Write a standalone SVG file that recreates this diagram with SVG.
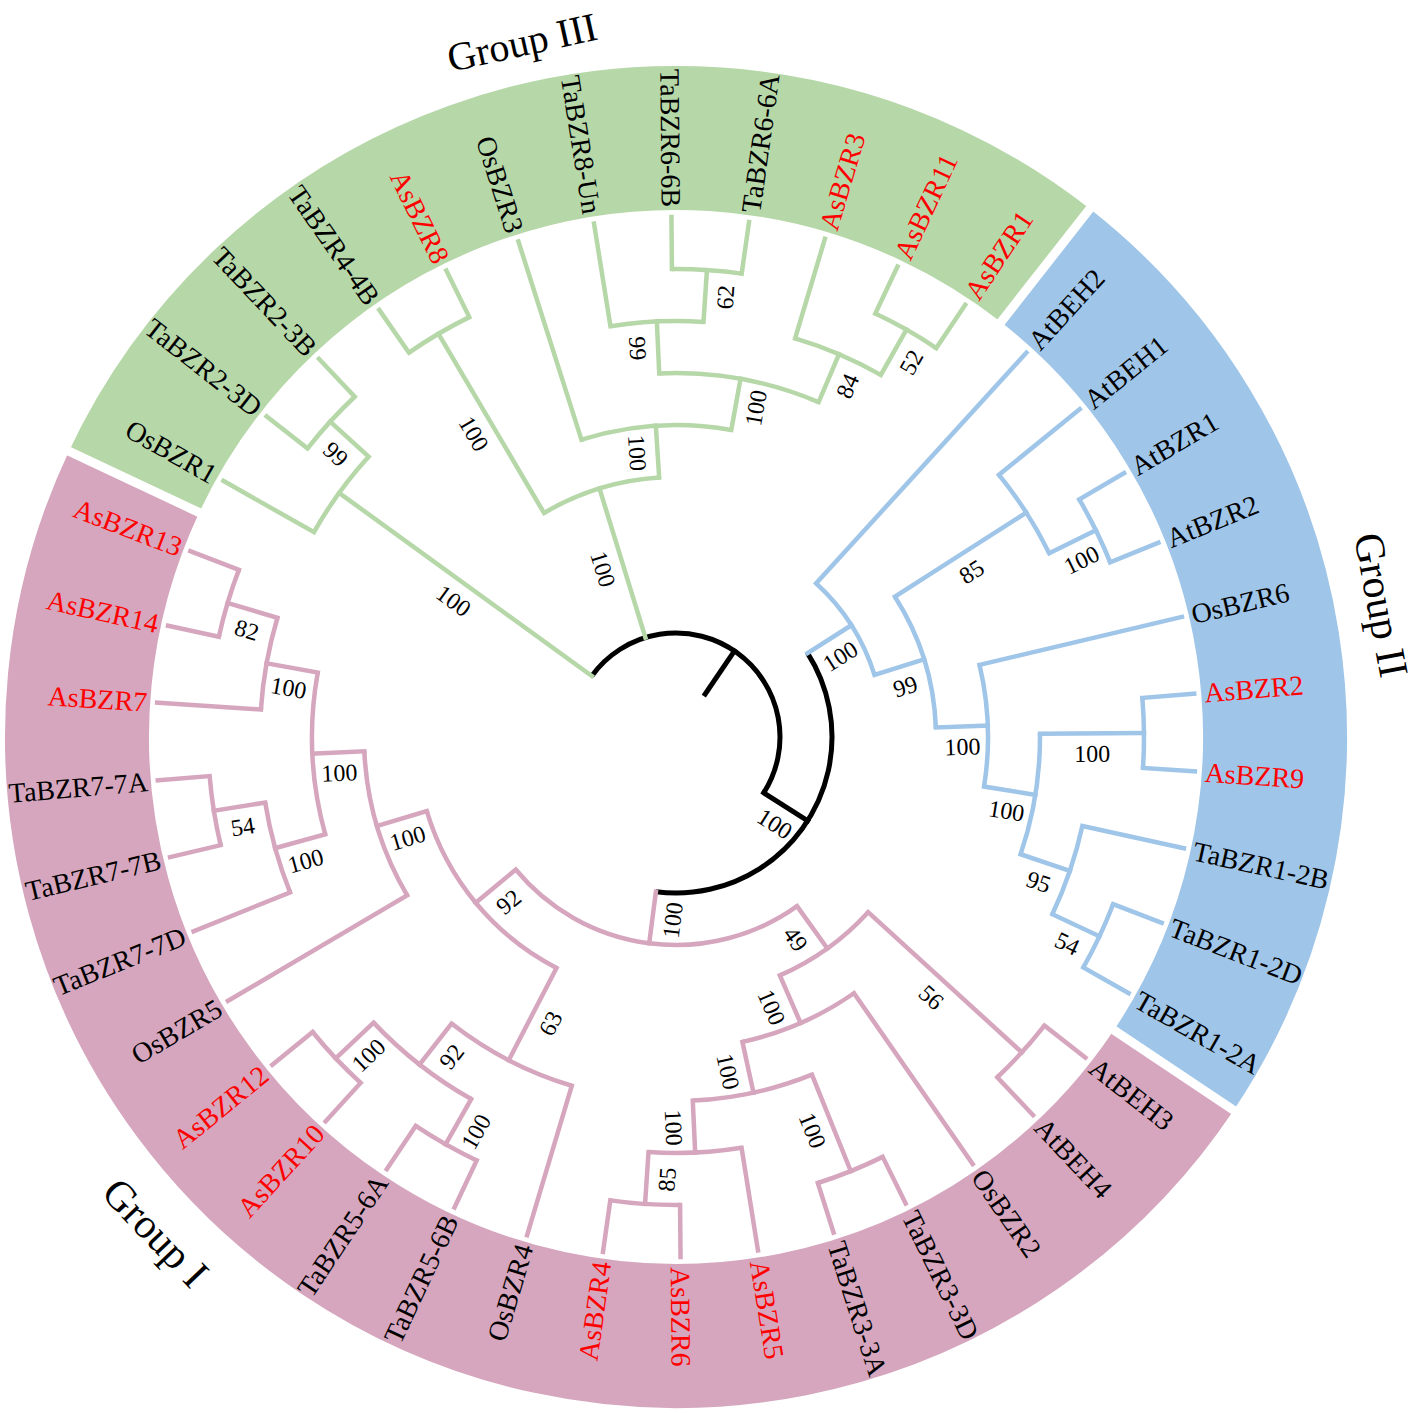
<svg xmlns="http://www.w3.org/2000/svg" width="1417" height="1413" viewBox="0 0 1417 1413">
<style>
.ring{fill:none;stroke-width:144}
.gap{stroke:#fff;stroke-width:9}
.e{fill:none;stroke-width:4.5;stroke-linecap:square}
.a{fill:none;stroke-width:4.5}
.gr{stroke:#b6d7a8}
.bl{stroke:#9fc5e8}
.pk{stroke:#d5a6bd}
.k{stroke:#000;stroke-width:5}
text{font-family:"Liberation Serif","Times New Roman",serif;fill:#000}
.leaf{font-size:28px}
.red{fill:#ff0000}
.bs{font-size:24px;text-anchor:middle}
.grp{font-size:42px;text-anchor:middle}
.s{text-anchor:start}
.n{text-anchor:end}
</style>
<rect width="1417" height="1413" fill="#fff"/>
<g transform="translate(676,737)">
<g id="rings">
<circle class="ring" r="599" stroke="#b6d7a8" pathLength="360" stroke-dasharray="102.86 360" transform="rotate(205.21)"/>
<circle class="ring" r="599" stroke="#9fc5e8" pathLength="360" stroke-dasharray="85.72 360" transform="rotate(308.07)"/>
<circle class="ring" r="599" stroke="#d5a6bd" pathLength="360" stroke-dasharray="171.42 360" transform="rotate(33.79)"/>
<line class="gap" x1="524" x2="680" transform="rotate(205.21)"/>
<line class="gap" x1="524" x2="680" transform="rotate(308.07)"/>
<line class="gap" x1="524" x2="680" transform="rotate(33.79)"/>
</g>
<g id="connectors">
<!-- root -->
<line class="e k" x1="52" x2="104" transform="rotate(304.19)"/>
<circle class="a k" r="104" pathLength="360" stroke-dasharray="176.52 360" transform="rotate(215.93)"/>
<line class="e k" x1="104" x2="156" transform="rotate(32.45)"/>
<circle class="a k" r="156" pathLength="360" stroke-dasharray="129.91 360" transform="rotate(327.49)"/>
<!-- green -->
<g class="gr">
<line class="e gr" x1="104" x2="416" transform="rotate(215.93)"/>
<circle class="a gr" r="416" pathLength="360" stroke-dasharray="12.86 360" transform="rotate(209.5)"/>
<line class="e gr" x1="416" x2="520" transform="rotate(209.5)"/>
<line class="e gr" x1="416" x2="468" transform="rotate(222.36)"/>
<circle class="a gr" r="468" pathLength="360" stroke-dasharray="8.57 360" transform="rotate(218.07)"/>
<line class="e gr" x1="468" x2="520" transform="rotate(218.07)"/>
<line class="e gr" x1="468" x2="520" transform="rotate(226.64)"/>
<line class="e gr" x1="104" x2="260" transform="rotate(252.89)"/>
<circle class="a gr" r="260" pathLength="360" stroke-dasharray="26.79 360" transform="rotate(239.5)"/>
<line class="e gr" x1="260" x2="468" transform="rotate(239.5)"/>
<circle class="a gr" r="468" pathLength="360" stroke-dasharray="8.58 360" transform="rotate(235.21)"/>
<line class="e gr" x1="468" x2="520" transform="rotate(235.21)"/>
<line class="e gr" x1="468" x2="520" transform="rotate(243.79)"/>
<line class="e gr" x1="260" x2="312" transform="rotate(266.29)"/>
<circle class="a gr" r="312" pathLength="360" stroke-dasharray="27.85 360" transform="rotate(252.36)"/>
<line class="e gr" x1="312" x2="520" transform="rotate(252.36)"/>
<line class="e gr" x1="312" x2="364" transform="rotate(280.21)"/>
<circle class="a gr" r="364" pathLength="360" stroke-dasharray="25.71 360" transform="rotate(267.36)"/>
<line class="e gr" x1="364" x2="416" transform="rotate(267.36)"/>
<circle class="a gr" r="416" pathLength="360" stroke-dasharray="12.86 360" transform="rotate(260.93)"/>
<line class="e gr" x1="416" x2="520" transform="rotate(260.93)"/>
<line class="e gr" x1="416" x2="468" transform="rotate(273.79)"/>
<circle class="a gr" r="468" pathLength="360" stroke-dasharray="8.57 360" transform="rotate(269.5)"/>
<line class="e gr" x1="468" x2="520" transform="rotate(269.5)"/>
<line class="e gr" x1="468" x2="520" transform="rotate(278.07)"/>
<line class="e gr" x1="364" x2="416" transform="rotate(293.07)"/>
<circle class="a gr" r="416" pathLength="360" stroke-dasharray="12.86 360" transform="rotate(286.64)"/>
<line class="e gr" x1="416" x2="520" transform="rotate(286.64)"/>
<line class="e gr" x1="416" x2="468" transform="rotate(299.5)"/>
<circle class="a gr" r="468" pathLength="360" stroke-dasharray="8.58 360" transform="rotate(295.21)"/>
<line class="e gr" x1="468" x2="520" transform="rotate(295.21)"/>
<line class="e gr" x1="468" x2="520" transform="rotate(303.79)"/>
</g>
<!-- blue -->
<g class="bl">
<line class="e bl" x1="156" x2="208" transform="rotate(327.49)"/>
<circle class="a bl" r="208" pathLength="360" stroke-dasharray="30.27 360" transform="rotate(312.36)"/>
<line class="e bl" x1="208" x2="520" transform="rotate(312.36)"/>
<line class="e bl" x1="208" x2="260" transform="rotate(342.63)"/>
<circle class="a bl" r="260" pathLength="360" stroke-dasharray="30.53 360" transform="rotate(327.36)"/>
<line class="e bl" x1="260" x2="416" transform="rotate(327.36)"/>
<circle class="a bl" r="416" pathLength="360" stroke-dasharray="12.86 360" transform="rotate(320.93)"/>
<line class="e bl" x1="416" x2="520" transform="rotate(320.93)"/>
<line class="e bl" x1="416" x2="468" transform="rotate(333.79)"/>
<circle class="a bl" r="468" pathLength="360" stroke-dasharray="8.57 360" transform="rotate(329.5)"/>
<line class="e bl" x1="468" x2="520" transform="rotate(329.5)"/>
<line class="e bl" x1="468" x2="520" transform="rotate(338.07)"/>
<line class="e bl" x1="260" x2="312" transform="rotate(357.89)"/>
<circle class="a bl" r="312" pathLength="360" stroke-dasharray="22.5 360" transform="rotate(346.64)"/>
<line class="e bl" x1="312" x2="520" transform="rotate(346.64)"/>
<line class="e bl" x1="312" x2="364" transform="rotate(9.14)"/>
<circle class="a bl" r="364" pathLength="360" stroke-dasharray="19.29 360" transform="rotate(359.5)"/>
<line class="e bl" x1="364" x2="468" transform="rotate(359.5)"/>
<circle class="a bl" r="468" pathLength="360" stroke-dasharray="8.58 360" transform="rotate(355.21)"/>
<line class="e bl" x1="468" x2="520" transform="rotate(355.21)"/>
<line class="e bl" x1="468" x2="520" transform="rotate(3.79)"/>
<line class="e bl" x1="364" x2="416" transform="rotate(18.79)"/>
<circle class="a bl" r="416" pathLength="360" stroke-dasharray="12.85 360" transform="rotate(12.36)"/>
<line class="e bl" x1="416" x2="520" transform="rotate(12.36)"/>
<line class="e bl" x1="416" x2="468" transform="rotate(25.21)"/>
<circle class="a bl" r="468" pathLength="360" stroke-dasharray="8.57 360" transform="rotate(20.93)"/>
<line class="e bl" x1="468" x2="520" transform="rotate(20.93)"/>
<line class="e bl" x1="468" x2="520" transform="rotate(29.5)"/>
</g>
<!-- pink -->
<g class="pk">
<line class="e pk" x1="156" x2="208" transform="rotate(97.4)"/>
<circle class="a pk" r="208" pathLength="360" stroke-dasharray="85.99 360" transform="rotate(54.41)"/>
<line class="e pk" x1="208" x2="260" transform="rotate(54.41)"/>
<circle class="a pk" r="260" pathLength="360" stroke-dasharray="24.1 360" transform="rotate(42.36)"/>
<line class="e pk" x1="260" x2="468" transform="rotate(42.36)"/>
<circle class="a pk" r="468" pathLength="360" stroke-dasharray="8.57 360" transform="rotate(38.07)"/>
<line class="e pk" x1="468" x2="520" transform="rotate(38.07)"/>
<line class="e pk" x1="468" x2="520" transform="rotate(46.64)"/>
<line class="e pk" x1="260" x2="312" transform="rotate(66.46)"/>
<circle class="a pk" r="312" pathLength="360" stroke-dasharray="22.5 360" transform="rotate(55.21)"/>
<line class="e pk" x1="312" x2="520" transform="rotate(55.21)"/>
<line class="e pk" x1="312" x2="364" transform="rotate(77.71)"/>
<circle class="a pk" r="364" pathLength="360" stroke-dasharray="19.29 360" transform="rotate(68.07)"/>
<line class="e pk" x1="364" x2="468" transform="rotate(68.07)"/>
<circle class="a pk" r="468" pathLength="360" stroke-dasharray="8.57 360" transform="rotate(63.79)"/>
<line class="e pk" x1="468" x2="520" transform="rotate(63.79)"/>
<line class="e pk" x1="468" x2="520" transform="rotate(72.36)"/>
<line class="e pk" x1="364" x2="416" transform="rotate(87.36)"/>
<circle class="a pk" r="416" pathLength="360" stroke-dasharray="12.86 360" transform="rotate(80.93)"/>
<line class="e pk" x1="416" x2="520" transform="rotate(80.93)"/>
<line class="e pk" x1="416" x2="468" transform="rotate(93.79)"/>
<circle class="a pk" r="468" pathLength="360" stroke-dasharray="8.57 360" transform="rotate(89.5)"/>
<line class="e pk" x1="468" x2="520" transform="rotate(89.5)"/>
<line class="e pk" x1="468" x2="520" transform="rotate(98.07)"/>
<line class="e pk" x1="208" x2="260" transform="rotate(140.4)"/>
<circle class="a pk" r="260" pathLength="360" stroke-dasharray="46.07 360" transform="rotate(117.36)"/>
<line class="e pk" x1="260" x2="364" transform="rotate(117.36)"/>
<circle class="a pk" r="364" pathLength="360" stroke-dasharray="21.43 360" transform="rotate(106.64)"/>
<line class="e pk" x1="364" x2="520" transform="rotate(106.64)"/>
<line class="e pk" x1="364" x2="416" transform="rotate(128.07)"/>
<circle class="a pk" r="416" pathLength="360" stroke-dasharray="17.14 360" transform="rotate(119.5)"/>
<line class="e pk" x1="416" x2="468" transform="rotate(119.5)"/>
<circle class="a pk" r="468" pathLength="360" stroke-dasharray="8.58 360" transform="rotate(115.21)"/>
<line class="e pk" x1="468" x2="520" transform="rotate(115.21)"/>
<line class="e pk" x1="468" x2="520" transform="rotate(123.79)"/>
<line class="e pk" x1="416" x2="468" transform="rotate(136.64)"/>
<circle class="a pk" r="468" pathLength="360" stroke-dasharray="8.57 360" transform="rotate(132.36)"/>
<line class="e pk" x1="468" x2="520" transform="rotate(132.36)"/>
<line class="e pk" x1="468" x2="520" transform="rotate(140.93)"/>
<line class="e pk" x1="260" x2="312" transform="rotate(163.43)"/>
<circle class="a pk" r="312" pathLength="360" stroke-dasharray="27.86 360" transform="rotate(149.5)"/>
<line class="e pk" x1="312" x2="520" transform="rotate(149.5)"/>
<line class="e pk" x1="312" x2="364" transform="rotate(177.36)"/>
<circle class="a pk" r="364" pathLength="360" stroke-dasharray="25.71 360" transform="rotate(164.5)"/>
<line class="e pk" x1="364" x2="416" transform="rotate(164.5)"/>
<circle class="a pk" r="416" pathLength="360" stroke-dasharray="12.86 360" transform="rotate(158.07)"/>
<line class="e pk" x1="416" x2="520" transform="rotate(158.07)"/>
<line class="e pk" x1="416" x2="468" transform="rotate(170.93)"/>
<circle class="a pk" r="468" pathLength="360" stroke-dasharray="8.57 360" transform="rotate(166.64)"/>
<line class="e pk" x1="468" x2="520" transform="rotate(166.64)"/>
<line class="e pk" x1="468" x2="520" transform="rotate(175.21)"/>
<line class="e pk" x1="364" x2="416" transform="rotate(190.21)"/>
<circle class="a pk" r="416" pathLength="360" stroke-dasharray="12.85 360" transform="rotate(183.79)"/>
<line class="e pk" x1="416" x2="520" transform="rotate(183.79)"/>
<line class="e pk" x1="416" x2="468" transform="rotate(196.64)"/>
<circle class="a pk" r="468" pathLength="360" stroke-dasharray="8.57 360" transform="rotate(192.36)"/>
<line class="e pk" x1="468" x2="520" transform="rotate(192.36)"/>
<line class="e pk" x1="468" x2="520" transform="rotate(200.93)"/>
</g>
</g>
<g id="bootstrap">
<text class="bs" transform="rotate(32.45) translate(130,20)" dy=".35em">100</text>
<text class="bs" transform="rotate(215.93) translate(260,-20) rotate(180)" dy=".35em">100</text>
<text class="bs" transform="rotate(222.36) translate(442,-20) rotate(180)" dy=".35em">99</text>
<text class="bs" transform="rotate(252.89) translate(182,-20) rotate(180)" dy=".35em">100</text>
<text class="bs" transform="rotate(239.5) translate(364,-20) rotate(180)" dy=".35em">100</text>
<text class="bs" transform="rotate(266.29) translate(286,-20) rotate(180)" dy=".35em">100</text>
<text class="bs" transform="rotate(280.21) translate(338,20)" dy=".35em">100</text>
<text class="bs" transform="rotate(267.36) translate(390,-20) rotate(180)" dy=".35em">99</text>
<text class="bs" transform="rotate(273.79) translate(442,20)" dy=".35em">62</text>
<text class="bs" transform="rotate(293.07) translate(390,20)" dy=".35em">84</text>
<text class="bs" transform="rotate(299.5) translate(442,20)" dy=".35em">52</text>
<text class="bs" transform="rotate(327.49) translate(182,20)" dy=".35em">100</text>
<text class="bs" transform="rotate(342.63) translate(234,20)" dy=".35em">99</text>
<text class="bs" transform="rotate(327.36) translate(338,20)" dy=".35em">85</text>
<text class="bs" transform="rotate(333.79) translate(442,20)" dy=".35em">100</text>
<text class="bs" transform="rotate(357.89) translate(286,20)" dy=".35em">100</text>
<text class="bs" transform="rotate(9.14) translate(338,20)" dy=".35em">100</text>
<text class="bs" transform="rotate(359.5) translate(416,20)" dy=".35em">100</text>
<text class="bs" transform="rotate(18.79) translate(390,20)" dy=".35em">95</text>
<text class="bs" transform="rotate(25.21) translate(442,20)" dy=".35em">54</text>
<text class="bs" transform="rotate(97.4) translate(182,-20) rotate(180)" dy=".35em">100</text>
<text class="bs" transform="rotate(54.41) translate(234,20)" dy=".35em">49</text>
<text class="bs" transform="rotate(42.36) translate(364,20)" dy=".35em">56</text>
<text class="bs" transform="rotate(66.46) translate(286,20)" dy=".35em">100</text>
<text class="bs" transform="rotate(77.71) translate(338,20)" dy=".35em">100</text>
<text class="bs" transform="rotate(68.07) translate(416,20)" dy=".35em">100</text>
<text class="bs" transform="rotate(87.36) translate(390,20)" dy=".35em">100</text>
<text class="bs" transform="rotate(93.79) translate(442,-20) rotate(180)" dy=".35em">85</text>
<text class="bs" transform="rotate(140.4) translate(234,-20) rotate(180)" dy=".35em">92</text>
<text class="bs" transform="rotate(117.36) translate(312,-20) rotate(180)" dy=".35em">63</text>
<text class="bs" transform="rotate(128.07) translate(390,-20) rotate(180)" dy=".35em">92</text>
<text class="bs" transform="rotate(119.5) translate(442,-20) rotate(180)" dy=".35em">100</text>
<text class="bs" transform="rotate(136.64) translate(442,-20) rotate(180)" dy=".35em">100</text>
<text class="bs" transform="rotate(163.43) translate(286,-20) rotate(180)" dy=".35em">100</text>
<text class="bs" transform="rotate(177.36) translate(338,-20) rotate(180)" dy=".35em">100</text>
<text class="bs" transform="rotate(164.5) translate(390,-20) rotate(180)" dy=".35em">100</text>
<text class="bs" transform="rotate(170.93) translate(442,-20) rotate(180)" dy=".35em">54</text>
<text class="bs" transform="rotate(190.21) translate(390,-20) rotate(180)" dy=".35em">100</text>
<text class="bs" transform="rotate(196.64) translate(442,-20) rotate(180)" dy=".35em">82</text>
</g>
<g id="leaves">
<g id="leaf-OsBZR1"><text class="leaf n" transform="rotate(209.5) translate(530,0) rotate(180)" dy=".35em">OsBZR1</text></g>
<g id="leaf-TaBZR2-3D"><text class="leaf n" transform="rotate(218.07) translate(530,0) rotate(180)" dy=".35em">TaBZR2-3D</text></g>
<g id="leaf-TaBZR2-3B"><text class="leaf n" transform="rotate(226.64) translate(530,0) rotate(180)" dy=".35em">TaBZR2-3B</text></g>
<g id="leaf-TaBZR4-4B"><text class="leaf n" transform="rotate(235.21) translate(530,0) rotate(180)" dy=".35em">TaBZR4-4B</text></g>
<g id="leaf-AsBZR8"><text class="leaf n red" transform="rotate(243.79) translate(530,0) rotate(180)" dy=".35em">AsBZR8</text></g>
<g id="leaf-OsBZR3"><text class="leaf n" transform="rotate(252.36) translate(530,0) rotate(180)" dy=".35em">OsBZR3</text></g>
<g id="leaf-TaBZR8-Un"><text class="leaf n" transform="rotate(260.93) translate(530,0) rotate(180)" dy=".35em">TaBZR8-Un</text></g>
<g id="leaf-TaBZR6-6B"><text class="leaf n" transform="rotate(269.5) translate(530,0) rotate(180)" dy=".35em">TaBZR6-6B</text></g>
<g id="leaf-TaBZR6-6A"><text class="leaf s" transform="rotate(278.07) translate(530,0)" dy=".35em">TaBZR6-6A</text></g>
<g id="leaf-AsBZR3"><text class="leaf s red" transform="rotate(286.64) translate(530,0)" dy=".35em">AsBZR3</text></g>
<g id="leaf-AsBZR11"><text class="leaf s red" transform="rotate(295.21) translate(530,0)" dy=".35em">AsBZR11</text></g>
<g id="leaf-AsBZR1"><text class="leaf s red" transform="rotate(303.79) translate(530,0)" dy=".35em">AsBZR1</text></g>
<g id="leaf-AtBEH2"><text class="leaf s" transform="rotate(312.36) translate(530,0)" dy=".35em">AtBEH2</text></g>
<g id="leaf-AtBEH1"><text class="leaf s" transform="rotate(320.93) translate(530,0)" dy=".35em">AtBEH1</text></g>
<g id="leaf-AtBZR1"><text class="leaf s" transform="rotate(329.5) translate(530,0)" dy=".35em">AtBZR1</text></g>
<g id="leaf-AtBZR2"><text class="leaf s" transform="rotate(338.07) translate(530,0)" dy=".35em">AtBZR2</text></g>
<g id="leaf-OsBZR6"><text class="leaf s" transform="rotate(346.64) translate(530,0)" dy=".35em">OsBZR6</text></g>
<g id="leaf-AsBZR2"><text class="leaf s red" transform="rotate(355.21) translate(530,0)" dy=".35em">AsBZR2</text></g>
<g id="leaf-AsBZR9"><text class="leaf s red" transform="rotate(3.79) translate(530,0)" dy=".35em">AsBZR9</text></g>
<g id="leaf-TaBZR1-2B"><text class="leaf s" transform="rotate(12.36) translate(530,0)" dy=".35em">TaBZR1-2B</text></g>
<g id="leaf-TaBZR1-2D"><text class="leaf s" transform="rotate(20.93) translate(530,0)" dy=".35em">TaBZR1-2D</text></g>
<g id="leaf-TaBZR1-2A"><text class="leaf s" transform="rotate(29.5) translate(530,0)" dy=".35em">TaBZR1-2A</text></g>
<g id="leaf-AtBEH3"><text class="leaf s" transform="rotate(38.07) translate(530,0)" dy=".35em">AtBEH3</text></g>
<g id="leaf-AtBEH4"><text class="leaf s" transform="rotate(46.64) translate(530,0)" dy=".35em">AtBEH4</text></g>
<g id="leaf-OsBZR2"><text class="leaf s" transform="rotate(55.21) translate(530,0)" dy=".35em">OsBZR2</text></g>
<g id="leaf-TaBZR3-3D"><text class="leaf s" transform="rotate(63.79) translate(530,0)" dy=".35em">TaBZR3-3D</text></g>
<g id="leaf-TaBZR3-3A"><text class="leaf s" transform="rotate(72.36) translate(530,0)" dy=".35em">TaBZR3-3A</text></g>
<g id="leaf-AsBZR5"><text class="leaf s red" transform="rotate(80.93) translate(530,0)" dy=".35em">AsBZR5</text></g>
<g id="leaf-AsBZR6"><text class="leaf s red" transform="rotate(89.5) translate(530,0)" dy=".35em">AsBZR6</text></g>
<g id="leaf-AsBZR4"><text class="leaf n red" transform="rotate(98.07) translate(530,0) rotate(180)" dy=".35em">AsBZR4</text></g>
<g id="leaf-OsBZR4"><text class="leaf n" transform="rotate(106.64) translate(530,0) rotate(180)" dy=".35em">OsBZR4</text></g>
<g id="leaf-TaBZR5-6B"><text class="leaf n" transform="rotate(115.21) translate(530,0) rotate(180)" dy=".35em">TaBZR5-6B</text></g>
<g id="leaf-TaBZR5-6A"><text class="leaf n" transform="rotate(123.79) translate(530,0) rotate(180)" dy=".35em">TaBZR5-6A</text></g>
<g id="leaf-AsBZR10"><text class="leaf n red" transform="rotate(132.36) translate(530,0) rotate(180)" dy=".35em">AsBZR10</text></g>
<g id="leaf-AsBZR12"><text class="leaf n red" transform="rotate(140.93) translate(530,0) rotate(180)" dy=".35em">AsBZR12</text></g>
<g id="leaf-OsBZR5"><text class="leaf n" transform="rotate(149.5) translate(530,0) rotate(180)" dy=".35em">OsBZR5</text></g>
<g id="leaf-TaBZR7-7D"><text class="leaf n" transform="rotate(158.07) translate(530,0) rotate(180)" dy=".35em">TaBZR7-7D</text></g>
<g id="leaf-TaBZR7-7B"><text class="leaf n" transform="rotate(166.64) translate(530,0) rotate(180)" dy=".35em">TaBZR7-7B</text></g>
<g id="leaf-TaBZR7-7A"><text class="leaf n" transform="rotate(175.21) translate(530,0) rotate(180)" dy=".35em">TaBZR7-7A</text></g>
<g id="leaf-AsBZR7"><text class="leaf n red" transform="rotate(183.79) translate(530,0) rotate(180)" dy=".35em">AsBZR7</text></g>
<g id="leaf-AsBZR14"><text class="leaf n red" transform="rotate(192.36) translate(530,0) rotate(180)" dy=".35em">AsBZR14</text></g>
<g id="leaf-AsBZR13"><text class="leaf n red" transform="rotate(200.93) translate(530,0) rotate(180)" dy=".35em">AsBZR13</text></g>
</g>
<g id="groups">
<text class="grp" style="font-size:40px" transform="rotate(257.5) translate(712,0) rotate(90)" dy=".35em">Group III</text>
<text class="grp" transform="rotate(349.4) translate(718,0) rotate(90)" dy=".35em">Group II</text>
<text class="grp" transform="rotate(136.4) translate(718,0) rotate(-90)" dy=".35em">Group I</text>
</g>
</g>
</svg>
